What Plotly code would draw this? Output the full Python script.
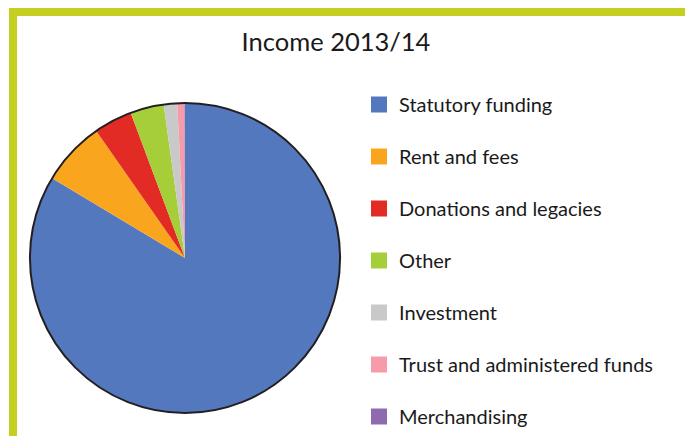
import plotly.graph_objects as go

categories = ["Statutory funding", "Rent and fees", "Donations and legacies", "Other",
              "Investment", "Trust and administered funds", "Merchandising"]
values = [83.6, 6.7, 4.0, 3.5, 1.4, 0.75, 0.05]
colors = ["#5478BD", "#F9A61E", "#E32B26", "#A6CE39", "#C9C9C9", "#F59BAA", "#8E6BB0"]
title_text = "Income 2013/14"

W, H = 685, 436
FONT = "Lato"

cx, cy, r = 185, 258, 155
dom_x = [(cx - r) / W, (cx + r) / W]
dom_y = [1 - (cy + r) / H, 1 - (cy - r) / H]

fig = go.Figure()
fig.add_trace(go.Pie(
    labels=categories, values=values, sort=False, direction="clockwise", rotation=0,
    marker=dict(colors=colors, line=dict(width=0)), textinfo="none", hoverinfo="label+percent",
    showlegend=False, domain=dict(x=dom_x, y=dom_y)))
# outer outline
fig.add_trace(go.Pie(
    labels=["outline"], values=[1], sort=False, textinfo="none", hoverinfo="skip",
    marker=dict(colors=["rgba(0,0,0,0)"], line=dict(color="#231F20", width=2)),
    showlegend=False, domain=dict(x=dom_x, y=dom_y)))

for i, (c, col) in enumerate(zip(categories, colors)):
    fig.add_trace(go.Scatter(
        x=[None], y=[None], mode="markers", name=c, legendgroup=f"g{i}",
        marker=dict(symbol="square", size=16, color=col), showlegend=True, hoverinfo="skip"))

fig.update_layout(
    width=W, height=H, margin=dict(l=0, r=0, t=0, b=0, autoexpand=False),
    paper_bgcolor="white", plot_bgcolor="white",
    font=dict(family=FONT, color="#1A1A1A"),
    title=dict(text=title_text, x=336 / W, xanchor="center", y=1 - 42 / H, yanchor="middle",
               font=dict(family=FONT, size=25.5, color="#1A1A1A")),
    xaxis=dict(visible=False), yaxis=dict(visible=False),
    legend=dict(x=359 / W, xanchor="left", y=1 - 85 / H, yanchor="top",
                font=dict(family=FONT, size=20, color="#1A1A1A"),
                tracegroupgap=23, itemclick=False, bgcolor="rgba(0,0,0,0)"),
    shapes=[
        dict(type="rect", xref="paper", yref="paper", x0=9 / W, x1=1, y0=1 - 16 / H, y1=1 - 8 / H,
             fillcolor="#C4CF22", line=dict(width=0), layer="above"),
        dict(type="rect", xref="paper", yref="paper", x0=9 / W, x1=17 / W, y0=0, y1=1 - 8 / H,
             fillcolor="#C4CF22", line=dict(width=0), layer="above"),
    ],
)

fig.write_html("out.html", config={"displayModeBar": False},
               post_script="document.body.style.margin='0';")
